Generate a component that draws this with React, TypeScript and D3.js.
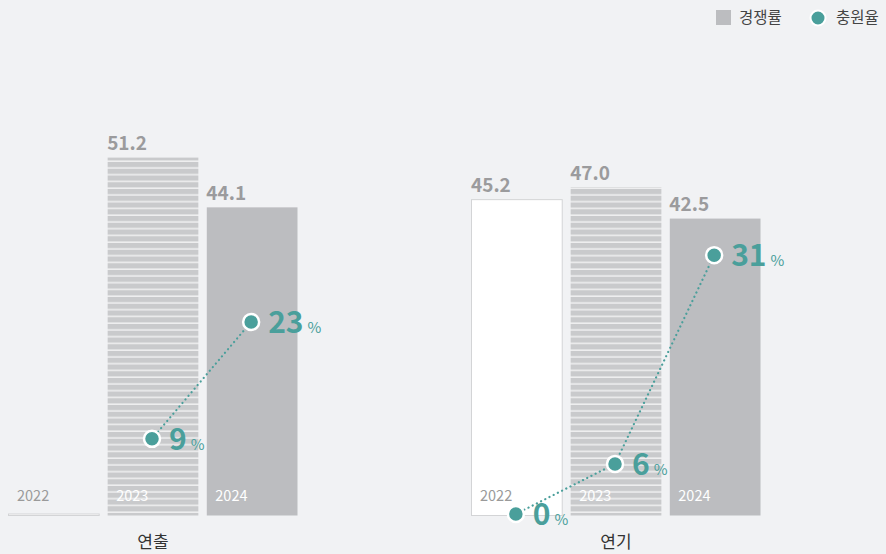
import * as d3 from "d3";

const groups = ["연출", "연기"];
const years = ["2022", "2023", "2024"];
// 경쟁률 (null = 없음)
const rateDirecting = [null, 51.2, 44.1];
const rateActing = [45.2, 47.0, 42.5];
// 충원율 (%)
const fillDirecting = [null, 9, 23];
const fillActing = [0, 6, 31];

const W = 886;
const H = 554;
const teal = "#4a9f9b";
const font = "'Noto Sans CJK KR', 'Noto Sans', sans-serif";

export default function App() {
  const rates = [rateDirecting, rateActing];
  const fills = [fillDirecting, fillActing];

  const gx = d3.scaleBand(groups, [8, 761]).paddingInner(0.3737).paddingOuter(0);
  const bx = d3.scaleBand(years, [0, 290]).paddingInner(0.075);
  const y = d3.scaleLinear([0, 60], [516, 95.4]);
  const yp = d3.scaleLinear([0, 40], [514, 180]);

  const barStyle = (i: number) =>
    i === 0 ? { fill: "#fff", stroke: "#d3d4d6" } : i === 1 ? { fill: "url(#stripes)", stroke: "none" } : { fill: "#bcbdc0", stroke: "none" };

  return (
    <svg width={W} height={H} style={{ position: "absolute", left: 0, top: 0, background: "#f1f2f4" }} fontFamily={font}>
      <defs>
        <pattern id="stripes" patternUnits="userSpaceOnUse" width={10} height={6.75}>
          <rect width={10} height={6.75} fill="#c9cacc" />
          <rect y={5.2} width={10} height={1.5} fill="#f0f0f1" />
        </pattern>
      </defs>

      {groups.map((g, gi) => {
        const x0 = gx(g)!;
        const pts = years
          .map((yr, i) => ({ v: fills[gi][i], cx: x0 + bx(yr)! + bx.bandwidth() / 2 - 1 }))
          .filter(p => p.v !== null) as { v: number; cx: number }[];
        const line = d3.line<{ v: number; cx: number }>().x(p => p.cx).y(p => yp(p.v));
        return (
          <g key={g}>
            {years.map((yr, i) => {
              const v = rates[gi][i];
              const x = x0 + bx(yr)!;
              const w = bx.bandwidth();
              const top = v === null ? y(0) - 2.5 : y(v);
              const st = barStyle(i);
              return (
                <g key={yr}>
                  <rect x={x + 0.5} y={top + 0.5} width={w - 1} height={y(0) - top - 1} fill={st.fill} stroke={st.stroke} />
                  {v !== null && (
                    <text x={x} y={top - 7} fontSize={19} fontWeight={700} fill="#9b9b9d">{v.toFixed(1)}</text>
                  )}
                  <text x={x + 9} y={501} fontSize={14.5} fill={i === 0 ? "#9a9a9a" : "#fff"}>{yr}</text>
                </g>
              );
            })}
            <path d={line(pts) ?? ""} fill="none" stroke={teal} strokeWidth={2.2} strokeDasharray="0.1 4.6" strokeLinecap="round" />
            {pts.map((p, i) => (
              <g key={i}>
                <circle cx={p.cx} cy={yp(p.v)} r={8} fill={teal} stroke="#fff" strokeWidth={2.5} />
                <text x={p.cx + 17} y={yp(p.v) + 11} fill={teal}>
                  <tspan fontSize={30} fontWeight={700}>{p.v}</tspan>
                  <tspan dx={4} fontSize={15}>%</tspan>
                </text>
              </g>
            ))}
            <text x={x0 + bx("2023")! + bx.bandwidth() / 2} y={548} textAnchor="middle" fontSize={17} fill="#333">{g}</text>
          </g>
        );
      })}

      <g fontSize={15.5} fill="#444">
        <rect x={716} y={10} width={15} height={15} fill="#bcbdc0" />
        <text x={739} y={23}>경쟁률</text>
        <circle cx={818} cy={18} r={7.5} fill={teal} stroke="#fff" strokeWidth={2} />
        <text x={836} y={23}>충원율</text>
      </g>
    </svg>
  );
}
